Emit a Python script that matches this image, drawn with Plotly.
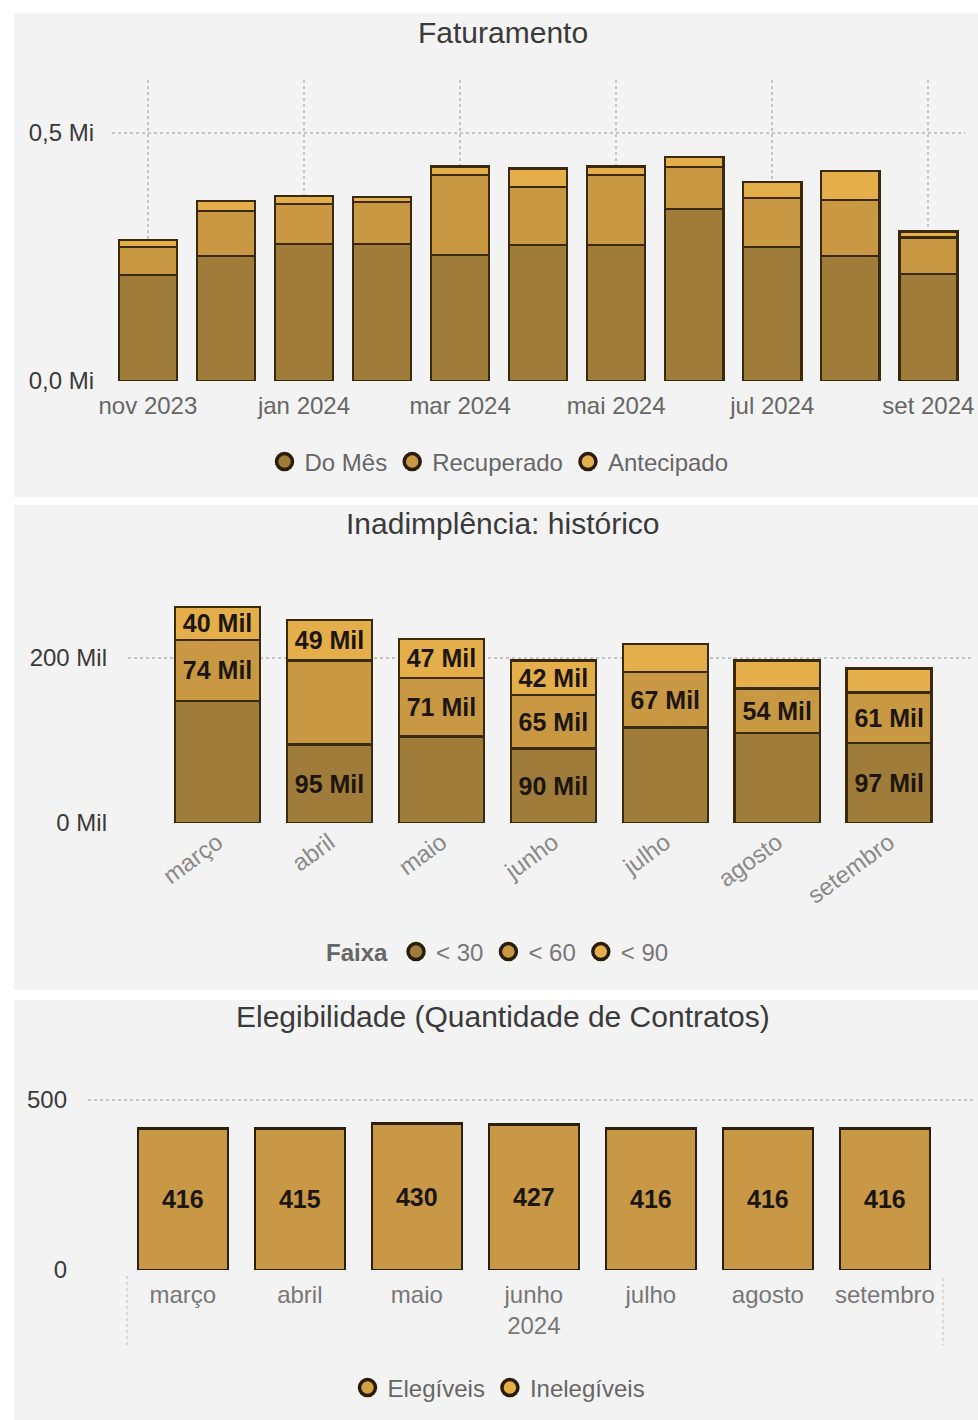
import plotly.graph_objects as go

W, H = 978, 1420


def fx(p):
    return p / W


def fy(p):
    return 1 - p / H


FONT = "Liberation Sans, Arial, sans-serif"
EDGE = "#3b290c"
C_DARK = "#a07c3a"
C_MID = "#c99842"
C_LIGHT = "#e4ae4a"
GRID = "#c4c4c4"

# --- Faturamento (valores em milhares de R$) ---
fat_meses = ["nov 2023", "dez 2023", "jan 2024", "fev 2024", "mar 2024", "abr 2024",
             "mai 2024", "jun 2024", "jul 2024", "ago 2024", "set 2024"]
fat_ticks = ["nov 2023", "jan 2024", "mar 2024", "mai 2024", "jul 2024", "set 2024"]
do_mes = [214, 252, 276, 276, 254, 274, 274, 347, 270, 252, 216]
recuperado = [56, 91, 81, 85, 161, 117, 141, 85, 99, 113, 73]
antecipado = [14, 20, 16, 10, 18, 38, 18, 20, 32, 58, 12]
fat_yticks = [0, 500]
fat_yticktext = ["0,0 Mi", "0,5 Mi"]

# --- Inadimplência (valores em milhares de R$) ---
meses = ["março", "abril", "maio", "junho", "julho", "agosto", "setembro"]
faixa_30 = [148, 95, 105, 90, 116, 109, 97]
faixa_60 = [74, 102, 71, 65, 67, 54, 61]
faixa_90 = [40, 49, 47, 42, 34, 34, 29]
rotulo_30 = [False, True, False, True, False, False, True]
rotulo_60 = [True, False, True, True, True, True, True]
rotulo_90 = [True, True, True, True, False, False, False]
inad_yticks = [0, 200]
inad_yticktext = ["0 Mil", "200 Mil"]

# --- Elegibilidade (quantidade de contratos) ---
eleg_ticktext = ["março", "abril", "maio", "junho<br>2024", "julho", "agosto", "setembro"]
elegiveis = [416, 415, 430, 427, 416, 416, 416]
inelegiveis = [2, 3, 2, 3, 2, 2, 2]
eleg_yticks = [0, 500]


def mil(vals, mask):
    return [f"{v} Mil" if m else "" for v, m in zip(vals, mask)]


def legend_marker(nome, cor, legenda, xa, ya):
    return go.Scatter(x=[None], y=[None], mode="markers", name=nome,
                      marker=dict(size=16, color=cor, line=dict(color="#2a1d08", width=3.5)),
                      legend=legenda, xaxis=xa, yaxis=ya)


fig = go.Figure()

# Faturamento bars
for nome, vals, cor in [("Do Mês", do_mes, C_DARK), ("Recuperado", recuperado, C_MID),
                        ("Antecipado", antecipado, C_LIGHT)]:
    fig.add_trace(go.Bar(x=fat_meses, y=vals, name=nome, width=0.745,
                         marker=dict(color=cor, line=dict(color=EDGE, width=2.5)),
                         showlegend=False, xaxis="x", yaxis="y", hoverinfo="skip"))
    fig.add_trace(legend_marker(nome, cor, "legend", "x", "y"))

# Inadimplência bars
for nome, vals, mask, cor in [("< 30", faixa_30, rotulo_30, C_DARK),
                              ("< 60", faixa_60, rotulo_60, C_MID),
                              ("< 90", faixa_90, rotulo_90, C_LIGHT)]:
    fig.add_trace(go.Bar(x=meses, y=vals, name=nome, width=0.76,
                         text=mil(vals, mask), textposition="inside",
                         insidetextanchor="middle", constraintext="none",
                         textfont=dict(family=FONT, size=25, color="#1c160c", weight="bold"),
                         marker=dict(color=cor, line=dict(color=EDGE, width=2.5)),
                         showlegend=False, xaxis="x2", yaxis="y2", hoverinfo="skip"))
    fig.add_trace(legend_marker(nome, cor, "legend2", "x2", "y2"))

# Elegibilidade bars
fig.add_trace(go.Bar(x=meses, y=elegiveis, name="Elegíveis", width=0.77,
                     text=[str(v) for v in elegiveis], textposition="inside",
                     insidetextanchor="middle", constraintext="none",
                     textfont=dict(family=FONT, size=25, color="#1c160c", weight="bold"),
                     marker=dict(color="#c99846", line=dict(color="#2b200c", width=2.2)),
                     showlegend=False, xaxis="x3", yaxis="y3", hoverinfo="skip"))
fig.add_trace(go.Bar(x=meses, y=inelegiveis, name="Inelegíveis", width=0.77,
                     marker=dict(color="#e3ad4a", line=dict(color="#2b200c", width=2.2)),
                     showlegend=False, xaxis="x3", yaxis="y3", hoverinfo="skip"))
for nome, cor in [("Elegíveis", "#d5a043"), ("Inelegíveis", "#e6ad48")]:
    fig.add_trace(legend_marker(nome, cor, "legend3", "x3", "y3"))

axis_common = dict(showline=False, zeroline=False, ticks="", fixedrange=True, automargin=False)
grid = dict(showgrid=True, gridcolor=GRID, griddash="dot", gridwidth=1.5)
legend_common = dict(orientation="h", xanchor="center", yanchor="middle", itemwidth=30,
                     traceorder="normal", bgcolor="rgba(0,0,0,0)",
                     itemclick=False, itemdoubleclick=False)

fig.update_layout(
    width=W, height=H, margin=dict(l=0, r=0, t=0, b=0, autoexpand=False),
    paper_bgcolor="white", plot_bgcolor="rgba(0,0,0,0)",
    barmode="stack", font=dict(family=FONT, color="#555"),
    xaxis=dict(domain=[fx(112), fx(965)], anchor="y", type="category",
               categoryarray=fat_meses, range=[-0.46, 10.47],
               tickvals=fat_ticks, ticktext=fat_ticks,
               tickfont=dict(size=24, color="#666"), ticklabelstandoff=8,
               **grid, **axis_common),
    yaxis=dict(domain=[fy(381), fy(80)], anchor="x", range=[0, 607],
               tickvals=fat_yticks, ticktext=fat_yticktext,
               tickfont=dict(size=24, color="#3a3a3a"), ticklabelstandoff=17,
               **grid, **axis_common),
    xaxis2=dict(domain=[fx(128), fx(972)], anchor="y2", type="category",
                categoryarray=meses, range=[-0.8, 6.74], tickangle=-36,
                tickfont=dict(size=24, color="#8a8a8a"), ticklabelstandoff=0,
                showgrid=False, **axis_common),
    yaxis2=dict(domain=[fy(823), fy(590)], anchor="x2", range=[0, 282.4],
                tickvals=inad_yticks, ticktext=inad_yticktext,
                tickfont=dict(size=24, color="#3a3a3a"), ticklabelstandoff=20,
                **grid, **axis_common),
    xaxis3=dict(domain=[fx(88), fx(975)], anchor="y3", type="category",
                categoryarray=meses, range=[-0.81, 6.77],
                tickvals=meses, ticktext=eleg_ticktext,
                tickfont=dict(size=24, color="#777"), ticklabelstandoff=8,
                showgrid=False, **axis_common),
    yaxis3=dict(domain=[fy(1270), fy(1085)], anchor="x3", range=[0, 544],
                tickvals=eleg_yticks,
                tickfont=dict(size=24, color="#3a3a3a"), ticklabelstandoff=20,
                **grid, **axis_common),
    legend=dict(x=fx(499), y=fy(462), font=dict(size=24, color="#666"), **legend_common),
    legend2=dict(x=fx(499), y=fy(952), font=dict(size=24, color="#777"),
                 title=dict(text="Faixa", side="left",
                            font=dict(size=24, color="#666", weight="bold")),
                 **legend_common),
    legend3=dict(x=fx(499), y=fy(1388), font=dict(size=24, color="#666"), **legend_common),
)

# panel backgrounds
for top, bottom in [(13, 497), (505, 990), (1000, 1420)]:
    fig.add_shape(type="rect", xref="paper", yref="paper", layer="below",
                  x0=fx(14), x1=1, y0=fy(bottom), y1=fy(top),
                  fillcolor="#f3f3f3", line=dict(width=0))

# hierarchy separators under the month axis
for xp, y0 in [(127, 1276), (943, 1278)]:
    fig.add_shape(type="line", xref="paper", yref="paper",
                  x0=fx(xp), x1=fx(xp), y0=fy(y0), y1=fy(1345),
                  line=dict(color="#cfcfcf", width=1.5, dash="dot"))

# chart titles
for texto, yp in [("Faturamento", 33), ("Inadimplência: histórico", 524),
                  ("Elegibilidade (Quantidade de Contratos)", 1016)]:
    fig.add_annotation(text=texto, xref="paper", yref="paper", x=fx(503), y=fy(yp),
                       xanchor="center", yanchor="middle", showarrow=False,
                       font=dict(size=30, color="#3a3a3a", family=FONT))

fig.write_html("out.html")
